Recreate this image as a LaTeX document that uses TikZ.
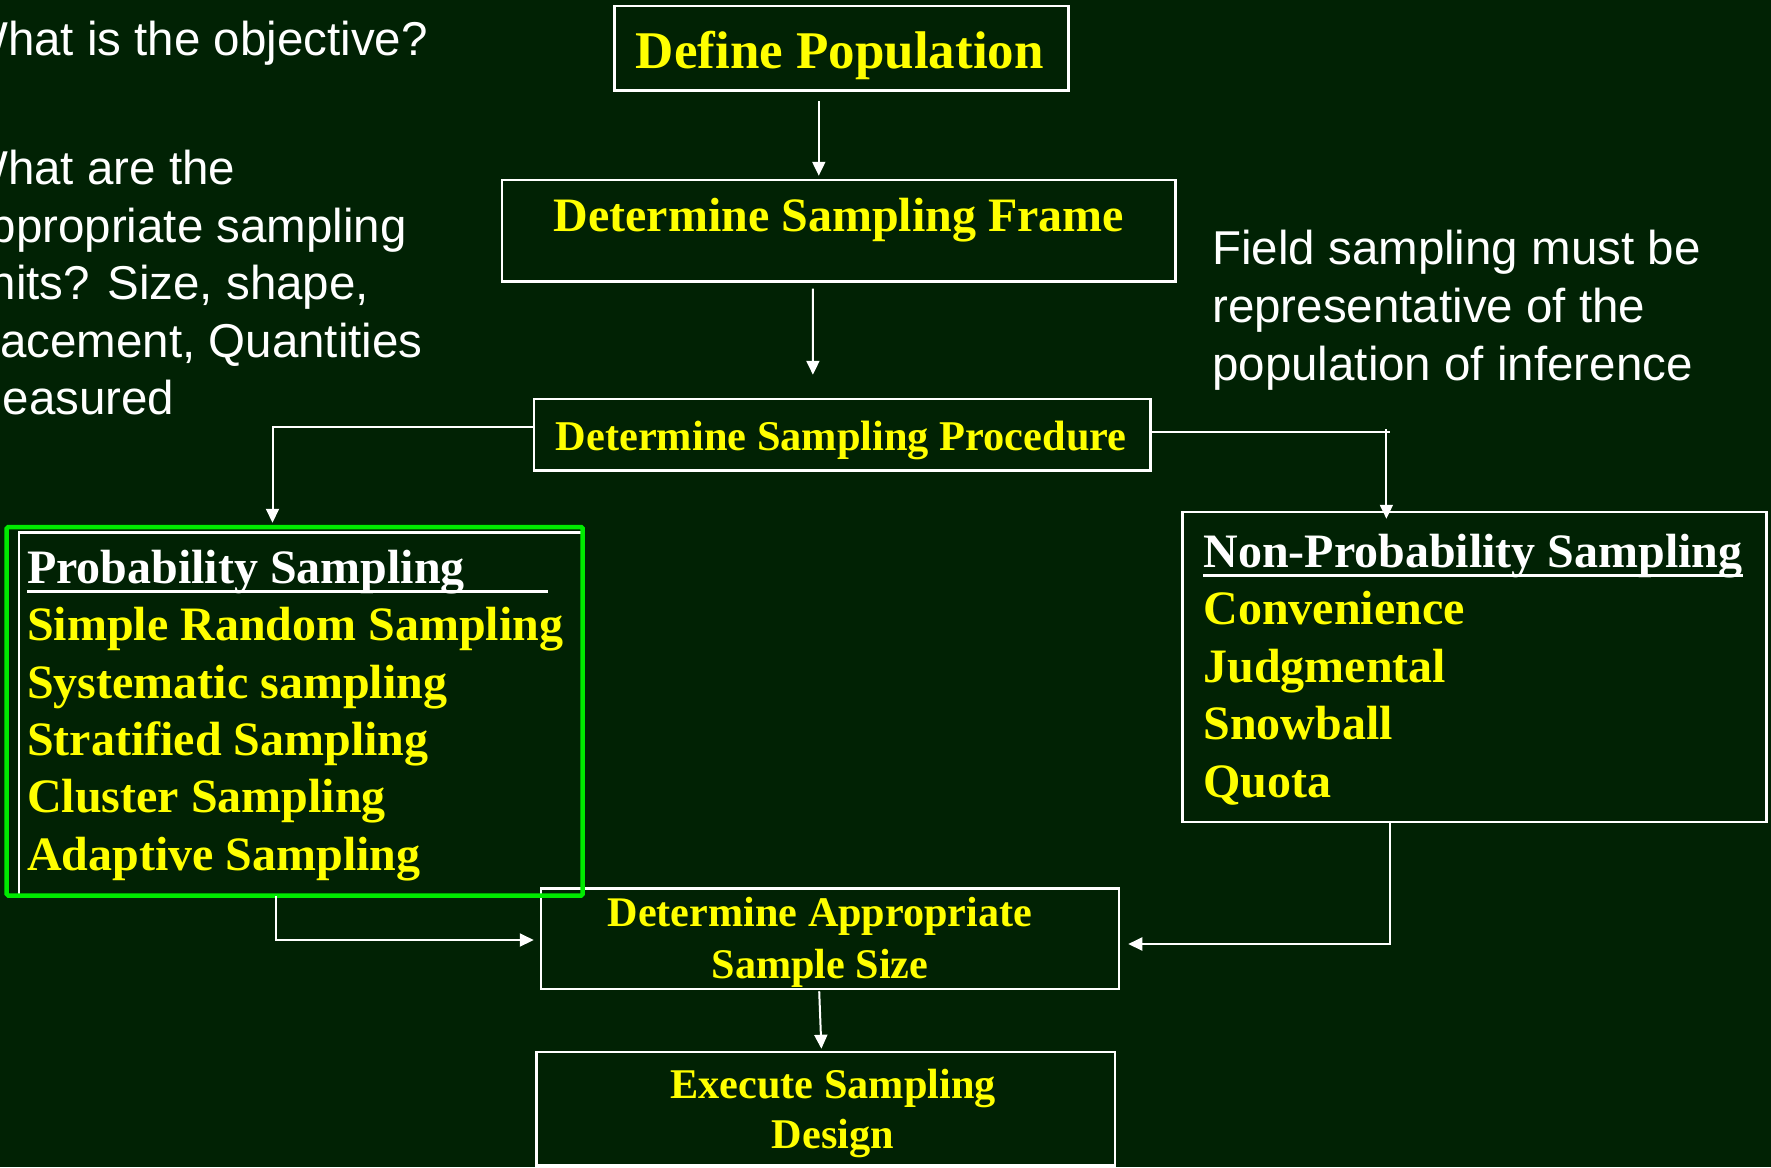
\documentclass[tikz,border=0pt]{standalone}
\usepackage{fontspec}
\setmainfont{Liberation Serif}
\newfontfamily\sansfam{Liberation Sans}
\usetikzlibrary{arrows.meta}
\definecolor{bgdark}{RGB}{1,34,4}
\definecolor{txtyellow}{RGB}{255,255,0}
\definecolor{framegreen}{RGB}{0,235,0}
\newcommand\tsize[1]{\fontsize{#1}{#1}\selectfont}
\begin{document}
\begin{tikzpicture}[x=1pt,y=-1pt,
  box/.style={draw=white, line width=2.5pt, inner sep=0pt},
  conn/.style={draw=white, line width=2pt, -{Triangle[length=14pt,width=13pt]}},
  head/.style={inner sep=0pt, anchor=base, text=txtyellow, font=\bfseries},
  item/.style={inner sep=0pt, anchor=base west, text=txtyellow, font=\bfseries\tsize{48pt}},
  note/.style={inner sep=0pt, anchor=base west, text=white, font=\sansfam\tsize{47.5pt}}]
% canvas
\fill[bgdark] (0,0) rectangle (1771,1167);
\useasboundingbox (0,0) rectangle (1771,1167);
\clip (0,0) rectangle (1771,1167);

% flow boxes
\node[box, minimum width=454.1pt, minimum height=84.7pt] (def) at (841.55,48.35) {};
\node[box, minimum width=673.6pt, minimum height=101.7pt] (frame) at (838.8,230.85) {};
\node[box, minimum width=616.1pt, minimum height=71.7pt] (proc) at (842.25,434.85) {};
\node[box, minimum width=563pt, minimum height=362.7pt] (prob) at (300.5,713.65) {};
\node[box, minimum width=583.9pt, minimum height=310pt] (np) at (1474.55,667) {};
\node[box, minimum width=578.2pt, minimum height=100.7pt] (size) at (830.1,938.65) {};
\node[box, minimum width=578.4pt, minimum height=113.5pt] (exec) at (825.8,1108.75) {};
% highlight round the probability methods
\node[draw=framegreen, line width=4.5pt, rounded corners=1.5pt, inner sep=0pt,
      minimum width=576pt, minimum height=368.5pt] (hilite) at (294.7,711.25) {};

% box titles
\node[head, font=\bfseries\tsize{53pt}] (tdef) at (839.9,68.3) {Define Population};
\node[head, font=\bfseries\tsize{48pt}] (tframe) at (838.8,231.7) {Determine Sampling Frame};
\node[head, font=\bfseries\tsize{42.4pt}] (tproc) at (841.1,450.7) {Determine Sampling Procedure};
\node[head, font=\bfseries\tsize{42.2pt}] (tsize1) at (820,926.7) {Determine Appropriate};
\node[head, font=\bfseries\tsize{42.2pt}] (tsize2) at (820,978.3) {Sample Size};
\node[head, font=\bfseries\tsize{42.3pt}] (texec1) at (833,1098.3) {Execute Sampling};
\node[head, font=\bfseries\tsize{42.3pt}] (texec2) at (833,1148.3) {Design};

% probability sampling list
\node[item, text=white] (probhead) at (26.9,583.5) {Probability Sampling};
\draw[white, line width=3pt] ([yshift=-7.5pt]probhead.base west) -- ++(521,0);
\foreach \t [count=\i from 0] in {Simple Random Sampling, Systematic sampling,
    Stratified Sampling, Cluster Sampling, Adaptive Sampling}
  \node[item] (probitem\i) at (26.9,{640.8+57.3*\i}) {\t};

% non-probability sampling list
\node[item, text=white] (nphead) at (1203.2,567) {Non-Probability Sampling};
\draw[white, line width=3pt] ([yshift=-8pt]nphead.base west) -- ([yshift=-8pt]nphead.base east);
\foreach \t [count=\i from 0] in {Convenience, Judgmental, Snowball, Quota}
  \node[item] (npitem\i) at (1203.2,{624.6+57.6*\i}) {\t};

% side notes
\node[note] (obj) at (-37,55) {What is the objective?};
\foreach \t [count=\i from 0] in {What are the, appropriate sampling,
    {units? Size, shape,}, {placement, Quantities}, measured}
  \node[note] (units\i) at (-37,{184.5+57.5*\i}) {\t};
\foreach \t [count=\i from 0] in {Field sampling must be, representative of the,
    population of inference}
  \node[note] (field\i) at (1212,{264.8+57.6*\i}) {\t};

% connectors
\draw[conn] ([xshift=-22.75pt,yshift=-9.3pt]def.south) -- ([xshift=-20pt,yshift=3pt]frame.north);
\draw[conn] ([xshift=-25.9pt,yshift=-5.6pt]frame.south) -- ([xshift=-29.35pt,yshift=23pt]proc.north);
\draw[conn] ([yshift=8.15pt]proc.west) -| ([xshift=-28pt,yshift=8.3pt]prob.north);
\path ([xshift=-88.15pt]np.north) coordinate (npx);
\path ([yshift=3.35pt]proc.east) coordinate (procr);
\coordinate (npcorner) at (npx |- procr);
\draw[conn] (procr) -| ([yshift=-8pt]npx);
\draw[white, line width=2pt] ([yshift=2.5pt]npcorner) -- (npcorner) -- ++(4,0);
\draw[conn] ([xshift=-25pt]prob.south) |- ([xshift=-6pt,yshift=-1.35pt]size.west);
\draw[conn] ([xshift=-84.95pt]np.south) |- ([xshift=7.8pt,yshift=-5.35pt]size.east);
\draw[conn] ([xshift=-10.9pt,yshift=-1pt]size.south) -- ([xshift=-4.4pt,yshift=2pt]exec.north);
\end{tikzpicture}
\end{document}
